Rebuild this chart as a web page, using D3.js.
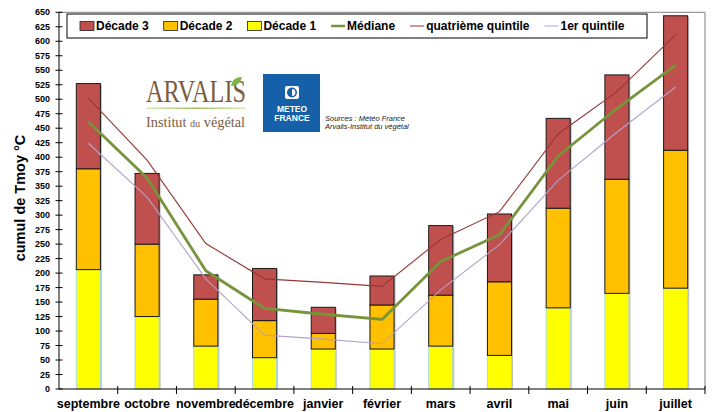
<!DOCTYPE html>
<html>
<head>
<meta charset="utf-8">
<script src="https://cdn.jsdelivr.net/npm/d3@7"></script>
<style>
  html, body { margin: 0; padding: 0; background: #fff; }
  svg { display: block; font-family: "Liberation Sans", Arial, sans-serif; }
</style>
</head>
<body>
<svg id="chart" width="715" height="412"></svg>
<script>
// months, decade values (stacked) and quintile lines
var months = ["septembre", "octobre", "novembre", "décembre", "janvier", "février",
              "mars", "avril", "mai", "juin", "juillet"];
var decade1 = [206, 125, 74, 54, 69, 69, 74, 58, 140, 165, 174];
var decade2 = [174, 125, 81, 64, 27, 76, 88, 127, 172, 197, 238];
var decade3 = [147, 122, 42, 90, 45, 50, 120, 117, 155, 180, 232];
var mediane = [461, 364, 204, 139, 129, 120, 220, 266, 402, 484, 559];
var quint4 = [502, 395, 251, 190, 184, 177, 258, 306, 440, 513, 611];
var quint1 = [424, 331, 190, 93, 86, 78, 171, 249, 360, 443, 521];
var yTicks = d3.range(0, 651, 25);

var svg = d3.select("#chart");

var plotL = 59, plotR = 705, plotT = 12.3, plotB = 389;
var serif = "'Liberation Serif', 'DejaVu Serif', serif";

var x = d3.scaleBand().domain(months).range([plotL, plotR]).padding(0);
var y = d3.scaleLinear().domain([0, 650]).range([plotB, plotT]);
var barW = x.bandwidth() * 0.41;
function cx(m) { return x(m) + x.bandwidth() / 2; }

// plot frame (top + right)
svg.append("path")
   .attr("d", "M" + plotL + "," + plotT + "H" + plotR + "V" + plotB)
   .attr("fill", "none")
   .attr("stroke", "#808080")
   .attr("stroke-width", 1);

// stacked bars
var table = months.map(function(m, i){
    return {month: m, d1: decade1[i], d2: decade2[i], d3: decade3[i]};
});
var stack = d3.stack().keys(["d1", "d2", "d3"])(table);
var fills = {d1: "#ffff00", d2: "#ffc000", d3: "#c0504d"};
var strokes = {d1: "#a9d9e3", d2: "#1a1a1a", d3: "#1a1a1a"};

// little grey shadow on the right side of each bar
svg.append("g").selectAll("rect")
   .data(table)
   .enter().append("rect")
   .attr("x", function(d){ return cx(d.month) - barW/2 + 1.5; })
   .attr("y", function(d){ return y(d.d1 + d.d2 + d.d3) + 1; })
   .attr("width", barW)
   .attr("height", function(d){ return y(0) - y(d.d1 + d.d2 + d.d3) - 1; })
   .attr("fill", "#9a9a9a")
   .attr("opacity", 0.6);

stack.forEach(function(layer){
    svg.append("g").selectAll("rect")
       .data(layer)
       .enter().append("rect")
       .attr("x", function(d){ return cx(d.data.month) - barW/2; })
       .attr("y", function(d){ return y(d[1]); })
       .attr("width", barW)
       .attr("height", function(d){ return y(d[0]) - y(d[1]); })
       .attr("fill", fills[layer.key])
       .attr("stroke", strokes[layer.key])
       .attr("stroke-width", 1);
});

// lines
var line = d3.line()
    .x(function(d, i){ return cx(months[i]); })
    .y(function(d){ return y(d); });

svg.append("path").datum(quint1).attr("d", line)
   .attr("fill", "none").attr("stroke", "#b3a2c7").attr("stroke-width", 1.1);
svg.append("path").datum(quint4).attr("d", line)
   .attr("fill", "none").attr("stroke", "#953735").attr("stroke-width", 1.1);
svg.append("path").datum(mediane).attr("d", line)
   .attr("fill", "none").attr("stroke", "#77933c").attr("stroke-width", 2.8)
   .attr("stroke-linejoin", "round");

// y axis
var yAxis = svg.append("g");
yAxis.append("line")
   .attr("x1", plotL).attr("x2", plotL).attr("y1", plotT).attr("y2", plotB)
   .attr("stroke", "#000");
yAxis.selectAll(".yt").data(yTicks).enter().append("line")
   .attr("x1", plotL - 3.5).attr("x2", plotL + 3.5)
   .attr("y1", function(d){ return y(d); })
   .attr("y2", function(d){ return y(d); })
   .attr("stroke", "#000");
yAxis.selectAll(".yl").data(yTicks).enter().append("text")
   .attr("x", plotL - 9)
   .attr("y", function(d){ return y(d); })
   .attr("dy", "0.35em")
   .attr("text-anchor", "end")
   .attr("font-size", 9)
   .attr("font-weight", "bold")
   .text(function(d){ return d; });

svg.append("text")
   .attr("transform", "translate(25," + 198 + ") rotate(-90)")
   .attr("text-anchor", "middle")
   .attr("font-size", 14.5)
   .attr("font-weight", "bold")
   .text("cumul de Tmoy °C");

// x axis
var xAxis = svg.append("g");
xAxis.append("line")
   .attr("x1", plotL).attr("x2", plotR).attr("y1", plotB).attr("y2", plotB)
   .attr("stroke", "#000");
xAxis.selectAll(".xt").data(months).enter().append("line")
   .attr("x1", function(d){ return x(d) + x.bandwidth(); })
   .attr("x2", function(d){ return x(d) + x.bandwidth(); })
   .attr("y1", plotB - 3).attr("y2", plotB + 5)
   .attr("stroke", "#000");
xAxis.selectAll(".xl").data(months).enter().append("text")
   .attr("x", function(d){ return cx(d); })
   .attr("y", 408)
   .attr("text-anchor", "middle")
   .attr("font-size", 12.5)
   .attr("font-weight", "bold")
   .text(function(d){ return d; });

// legend
var legendItems = [
    {label: "Décade 3", kind: "box", color: fills.d3},
    {label: "Décade 2", kind: "box", color: fills.d2},
    {label: "Décade 1", kind: "box", color: fills.d1},
    {label: "Médiane", kind: "line", color: "#77933c", w: 2.5},
    {label: "quatrième quintile", kind: "line", color: "#953735", w: 1},
    {label: "1er quintile", kind: "line", color: "#b3a2c7", w: 1}
];
var legend = svg.append("g");
legend.append("rect")
   .attr("x", 67).attr("y", 14).attr("width", 580).attr("height", 24)
   .attr("fill", "#fff").attr("stroke", "#000").attr("stroke-width", 1);
var lx = 80, ly = 26;
legendItems.forEach(function(it){
    if(it.kind == "box"){
        legend.append("rect")
           .attr("x", lx).attr("y", ly - 4.5).attr("width", 14).attr("height", 9)
           .attr("fill", it.color).attr("stroke", "#222").attr("stroke-width", 0.8);
    }
    else{
        legend.append("line")
           .attr("x1", lx).attr("x2", lx + 14).attr("y1", ly).attr("y2", ly)
           .attr("stroke", it.color).attr("stroke-width", it.w);
    }
    var t = legend.append("text")
       .attr("x", lx + 16).attr("y", ly).attr("dy", "0.36em")
       .attr("font-size", 12).attr("font-weight", "bold")
       .text(it.label);
    lx += 16 + t.node().getComputedTextLength() + 15;
});

// ARVALIS logo
var arv = svg.append("g");
arv.append("text")
   .attr("x", 146).attr("y", 102)
   .style("font-family", serif)
   .attr("font-size", 31)
   .attr("textLength", 100).attr("lengthAdjust", "spacingAndGlyphs")
   .attr("fill", "#7d5c3e")
   .text("ARVALIS");
arv.append("path")
   .attr("d", "M231,86 C232,80 236,77 242,77 C241,82 237,86 231,86 Z")
   .attr("fill", "#7cb342");
var grad = svg.append("defs").append("linearGradient").attr("id", "arvline");
grad.append("stop").attr("offset", "0%").attr("stop-color", "#d9e8b5");
grad.append("stop").attr("offset", "50%").attr("stop-color", "#9cc25a");
grad.append("stop").attr("offset", "100%").attr("stop-color", "#d9e8b5");
arv.append("rect")
   .attr("x", 147).attr("y", 107.5).attr("width", 98).attr("height", 1.5)
   .attr("fill", "url(#arvline)");
var inst = arv.append("text")
   .attr("x", 146).attr("y", 127)
   .style("font-family", serif)
   .attr("font-size", 14)
   .attr("fill", "#7d5c3e")
   .attr("textLength", 99).attr("lengthAdjust", "spacingAndGlyphs");
inst.append("tspan").text("Institut ");
inst.append("tspan").attr("font-size", 10).text("du");
inst.append("tspan").text(" végétal");

// Météo-France logo
var mf = svg.append("g");
mf.append("rect")
   .attr("x", 263).attr("y", 74).attr("width", 57).attr("height", 58)
   .attr("fill", "#1560a8");
mf.append("rect")
   .attr("x", 285).attr("y", 86).attr("width", 14).attr("height", 13).attr("rx", 2)
   .attr("fill", "#fff");
mf.append("circle")
   .attr("cx", 292).attr("cy", 92.5).attr("r", 4.2)
   .attr("fill", "none").attr("stroke", "#1560a8").attr("stroke-width", 1.6);
mf.append("path")
   .attr("d", "M292,88.3 A4.2,4.2 0 0,0 292,96.7 Z")
   .attr("fill", "#1560a8");
mf.append("text")
   .attr("x", 292).attr("y", 112).attr("text-anchor", "middle")
   .attr("font-size", 8.5).attr("font-weight", "bold").attr("fill", "#fff")
   .text("METEO");
mf.append("text")
   .attr("x", 292).attr("y", 121).attr("text-anchor", "middle")
   .attr("font-size", 8.5).attr("font-weight", "bold").attr("fill", "#fff")
   .text("FRANCE");

svg.append("text")
   .attr("x", 325).attr("y", 120.5)
   .attr("font-size", 7.5).attr("font-style", "italic").attr("fill", "#222")
   .text("Sources : Météo France");
svg.append("text")
   .attr("x", 325).attr("y", 128.5)
   .attr("font-size", 7.5).attr("font-style", "italic").attr("fill", "#222")
   .text("Arvalis-Institut du végétal");
</script>
</body>
</html>
